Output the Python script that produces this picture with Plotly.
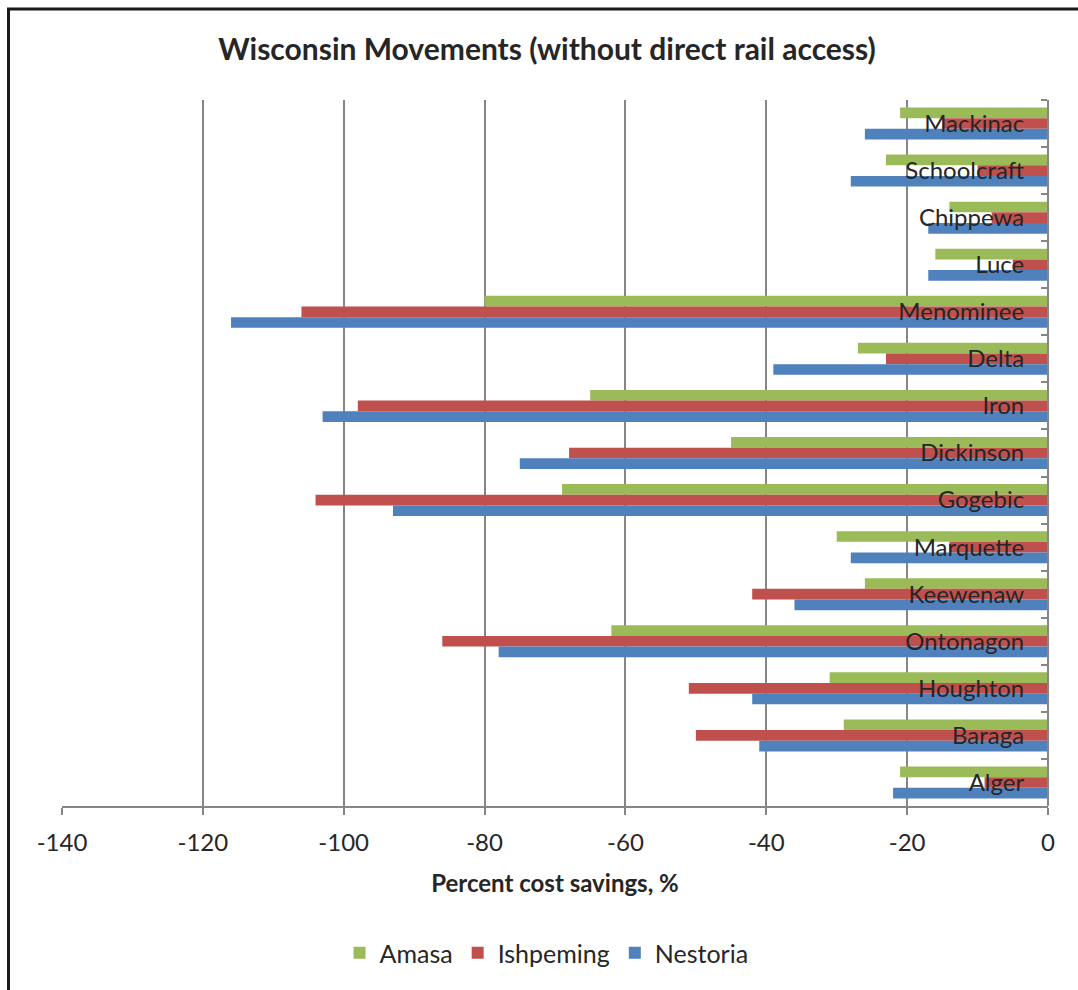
import plotly.graph_objects as go

# Counties, listed top to bottom
counties = ["Mackinac", "Schoolcraft", "Chippewa", "Luce", "Menominee", "Delta",
            "Iron", "Dickinson", "Gogebic", "Marquette", "Keewenaw", "Ontonagon",
            "Houghton", "Baraga", "Alger"]

# Percent cost savings by origin
amasa = [-21, -23, -14, -16, -80, -27, -65, -45, -69, -30, -26, -62, -31, -29, -21]
ishpeming = [-15, -10, -8, -5, -106, -23, -98, -68, -104, -14, -42, -86, -51, -50, -9]
nestoria = [-26, -28, -17, -17, -116, -39, -103, -75, -93, -28, -36, -78, -42, -41, -22]

x_ticks = [-140, -120, -100, -80, -60, -40, -20, 0]
x_tick_labels = ["-140", "-120", "-100", "-80", "-60", "-40", "-20", "0"]

FONT = "Lato"
TXT = "#262626"
GRID = "#868686"
W, H = 1078, 990
L, R, T, B = 62, 30, 100, 184

fig = go.Figure()
for name, vals, col in [("Amasa", amasa, "#9BBB59"),
                        ("Ishpeming", ishpeming, "#C0504D"),
                        ("Nestoria", nestoria, "#4F81BD")]:
    fig.add_trace(go.Bar(x=vals, y=counties, name=name, orientation="h",
                         marker=dict(color=col, line=dict(width=0))))

pw, ph = W - L - R, H - T - B


def px_x(p):
    return (p - L) / pw


def px_y(p):
    return (H - B - p) / ph


# Frame around the chart (top and left edges)
frame = dict(color="#1a1a1a", width=3)
shapes = [
    dict(type="line", xref="paper", yref="paper", x0=px_x(7), x1=px_x(1080),
         y0=px_y(9), y1=px_y(9), line=frame),
    dict(type="line", xref="paper", yref="paper", x0=px_x(8.5), x1=px_x(8.5),
         y0=px_y(8), y1=px_y(995), line=frame),
]

fig.update_layout(
    width=W, height=H,
    margin=dict(l=L, r=R, t=T, b=B),
    paper_bgcolor="white", plot_bgcolor="white",
    barmode="group", bargap=0.32, bargroupgap=0,
    font=dict(family=FONT, color=TXT, size=24),
    title=dict(text="<b>Wisconsin Movements (without direct rail access)</b>",
               x=547 / W, xref="container", xanchor="center",
               y=1 - 49 / H, yref="container", yanchor="middle",
               font=dict(family=FONT, size=30, color=TXT)),
    xaxis=dict(range=[-140, 0], tickvals=x_ticks, ticktext=x_tick_labels,
               showgrid=True, gridcolor=GRID, gridwidth=2,
               showline=True, linecolor=GRID, linewidth=2,
               ticks="outside", ticklen=7, tickcolor=GRID, tickwidth=2,
               ticklabelstandoff=7,
               zeroline=False, tickfont=dict(size=24, color=TXT),
               title=dict(text="<b>Percent cost savings, %</b>", standoff=20,
                          font=dict(size=24, color=TXT))),
    # County axis sits on the x = 0 edge, labels reading leftward into the plot
    yaxis=dict(autorange="reversed", side="left", anchor="free", position=1,
               automargin=False,
               showline=True, linecolor=GRID, linewidth=2,
               ticks="outside", ticklen=6, tickcolor=GRID, tickwidth=2,
               tickson="boundaries", showgrid=False, zeroline=False,
               ticklabelstandoff=18, tickfont=dict(size=24, color=TXT)),
    legend=dict(orientation="h", x=0.507, xref="container", xanchor="center",
                y=1 - 953 / H, yref="container", yanchor="middle",
                font=dict(size=25, color=TXT), itemwidth=30,
                traceorder="normal"),
    shapes=shapes,
)

fig.write_html("out.html")
